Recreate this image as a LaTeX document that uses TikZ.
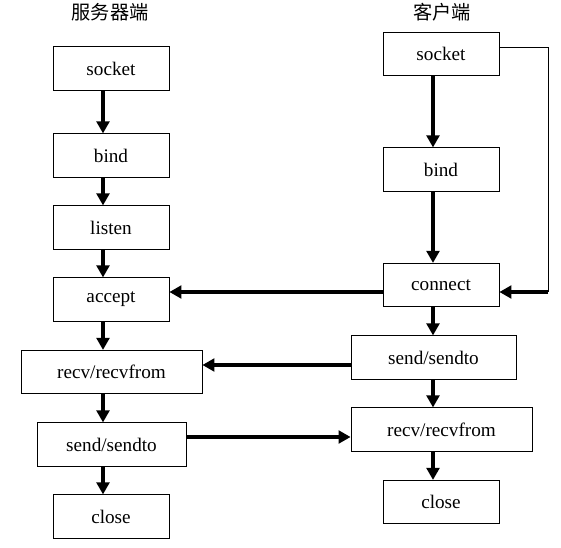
\documentclass[tikz,border=0pt]{standalone}
\usepackage{fontspec}
\setmainfont{Liberation Serif}
\newfontfamily\cjkfont{Noto Sans CJK SC}
\usetikzlibrary{arrows.meta}

\tikzset{
	box/.style={draw, line width=0.6pt, inner sep=0pt, minimum width=87pt, minimum height=32.5pt, font=\fontsize{14.4}{17}\selectfont},
	arr/.style={line width=2.9pt, -{Triangle[width=9.5pt,length=9pt]}},
	title/.style={font=\cjkfont\fontsize{14.4}{17}\selectfont}
}

\begin{document}
\begin{tikzpicture}[x=0.75pt, y=-0.75pt]
	\useasboundingbox (0,0) rectangle (561,547);
	% titles
	\node[title] (tserv) at (110,12) {服务器端};
	\node[title] (tcli) at (442,12) {客户端};
	% server side
	\node[box] (ss) at (111,68.5) {socket};
	\node[box] (sb) at (111,155.5) {bind};
	\node[box] (sl) at (111,227.5) {listen};
	\node[box] (sa) at (111,299.5) {accept};
	\node[box, minimum width=135.75pt] (sr) at (111.5,372) {recv/recvfrom};
	\node[box, minimum width=111.75pt] (sw) at (111.5,444.5) {send/sendto};
	\node[box] (sc) at (111,516.5) {close};
	% client side
	\node[box] (cs) at (441,54) {socket};
	\node[box] (cb) at (441,169.5) {bind};
	\node[box] (cc) at (441,285) {connect};
	\node[box, minimum width=123.75pt] (cw) at (433.5,357.5) {send/sendto};
	\node[box, minimum width=135.75pt] (cr) at (441.5,429.5) {recv/recvfrom};
	\node[box] (cl) at (441,502) {close};
	% columns and rows of the arrows
	\coordinate (xl) at (103,0);
	\coordinate (xr) at (433,0);
	\coordinate (fb) at (548,292);
	\coordinate (r1) at (0,365);
	\coordinate (r2) at (0,437);
	% server arrows
	\draw[arr] (ss.south -| xl) -- (sb.north -| xl);
	\draw[arr] (sb.south -| xl) -- (sl.north -| xl);
	\draw[arr] (sl.south -| xl) -- (sa.north -| xl);
	\draw[arr] (sa.south -| xl) -- (sr.north -| xl);
	\draw[arr] (sr.south -| xl) -- (sw.north -| xl);
	\draw[arr] (sw.south -| xl) -- (sc.north -| xl);
	% client arrows
	\draw[arr] (cs.south -| xr) -- (cb.north -| xr);
	\draw[arr] (cb.south -| xr) -- (cc.north -| xr);
	\draw[arr] (cc.south -| xr) -- (cw.north -| xr);
	\draw[arr] (cw.south -| xr) -- (cr.north -| xr);
	\draw[arr] (cr.south -| xr) -- (cl.north -| xr);
	% between the two
	\draw[line width=0.6pt] ([yshift=5.25pt]cs.east) -| (fb);
	\draw[arr] (fb) -- (cc.east |- fb);
	\draw[arr] (cc.west |- fb) -- (sa.east |- fb);
	\draw[arr] (cw.west |- r1) -- (sr.east |- r1);
	\draw[arr] (sw.east |- r2) -- (cr.west |- r2);
\end{tikzpicture}
\end{document}
